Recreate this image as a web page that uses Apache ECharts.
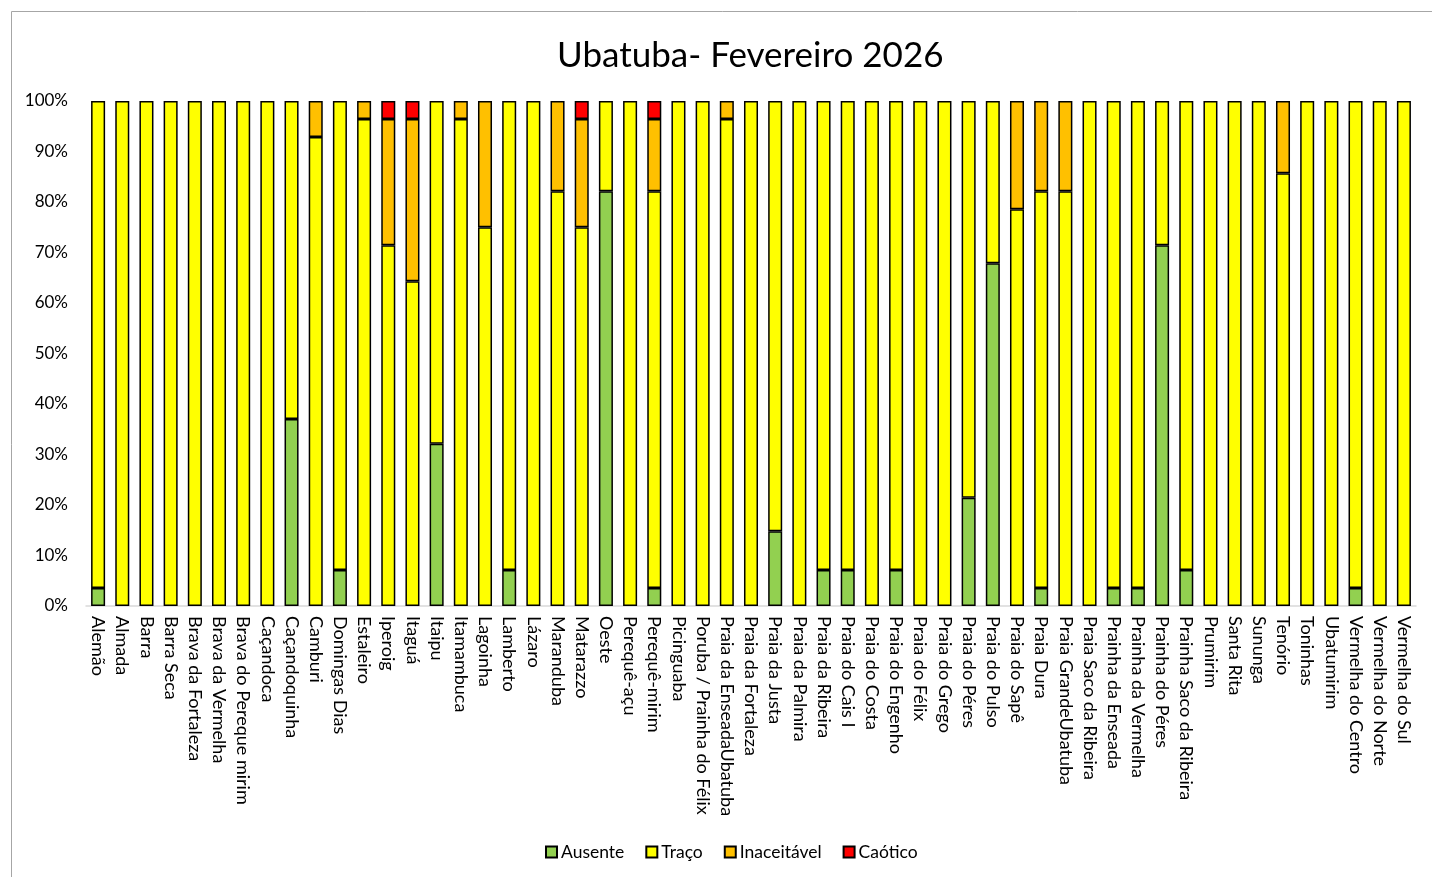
<!DOCTYPE html>
<html>
<head>
<meta charset="utf-8">
<script src="https://cdn.jsdelivr.net/npm/echarts@6/dist/echarts.min.js"></script>
<style>
  html, body { margin: 0; padding: 0; background: #fff; }
  #chart { width: 1432px; height: 877px; }
</style>
</head>
<body>
<div id="chart"></div>
<script>
// praias
var praias = ['Alemão', 'Almada', 'Barra', 'Barra Seca', 'Brava da Fortaleza', 'Brava da Vermelha',
  'Brava do Pereque mirim', 'Caçandoca', 'Caçandoquinha', 'Camburi', 'Domingas Dias', 'Estaleiro',
  'Iperoig', 'Itaguá', 'Itaipu', 'Itamambuca', 'Lagoinha', 'Lamberto', 'Lázaro', 'Maranduba',
  'Matarazzo', 'Oeste', 'Perequê-açu', 'Perequê-mirim', 'Picinguaba', 'Poruba / Prainha do Félix',
  'Praia da EnseadaUbatuba', 'Praia da Fortaleza', 'Praia da Justa', 'Praia da Palmira',
  'Praia da Ribeira', 'Praia do Cais I', 'Praia do Costa', 'Praia do Engenho', 'Praia do Félix',
  'Praia do Grego', 'Praia do Péres', 'Praia do Pulso', 'Praia do Sapê', 'Praia Dura',
  'Praia GrandeUbatuba', 'Praia Saco da Ribeira', 'Prainha da Enseada', 'Prainha da Vermelha',
  'Prainha do Péres', 'Prainha Saco da Ribeira', 'Prumirim', 'Santa Rita', 'Sununga', 'Tenório',
  'Toninhas', 'Ubatumirim', 'Vermelha do Centro', 'Vermelha do Norte', 'Vermelha do Sul']

// percentuais (%)
var ausente = [3.57, 0, 0, 0, 0, 0, 0, 0, 37.04, 0, 7.14, 0,
  0, 0, 32.14, 0, 0, 7.14, 0, 0,
  0, 82.14, 0, 3.57, 0, 0,
  0, 0, 14.81, 0,
  7.14, 7.14, 0, 7.14, 0,
  0, 21.43, 67.86, 0, 3.57,
  0, 0, 3.57, 3.57,
  71.43, 7.14, 0, 0, 0, 0,
  0, 0, 3.57, 0, 0]
var traco = [96.43, 100, 100, 100, 100, 100, 100, 100, 62.96, 92.86, 92.86, 96.43,
  71.43, 64.29, 67.86, 96.43, 75, 92.86, 100, 82.14,
  75, 17.86, 100, 78.57, 100, 100,
  96.43, 100, 85.19, 100,
  92.86, 92.86, 100, 92.86, 100,
  100, 78.57, 32.14, 78.57, 78.57,
  82.14, 100, 96.43, 96.43,
  28.57, 92.86, 100, 100, 100, 85.71,
  100, 100, 96.43, 100, 100]
var inaceitavel = [0, 0, 0, 0, 0, 0, 0, 0, 0, 7.14, 0, 3.57,
  25, 32.14, 0, 3.57, 25, 0, 0, 17.86,
  21.43, 0, 0, 14.29, 0, 0,
  3.57, 0, 0, 0,
  0, 0, 0, 0, 0,
  0, 0, 0, 21.43, 17.86,
  17.86, 0, 0, 0,
  0, 0, 0, 0, 0, 14.29,
  0, 0, 0, 0, 0]
var caotico = [0, 0, 0, 0, 0, 0, 0, 0, 0, 0, 0, 0,
  3.57, 3.57, 0, 0, 0, 0, 0, 0,
  3.57, 0, 0, 3.57, 0, 0,
  0, 0, 0, 0,
  0, 0, 0, 0, 0,
  0, 0, 0, 0, 0,
  0, 0, 0, 0,
  0, 0, 0, 0, 0, 0,
  0, 0, 0, 0, 0]

var yTicks = [0, 10, 20, 30, 40, 50, 60, 70, 80, 90, 100]

var fonte = 'Lato, "Open Sans", sans-serif'

function serie(nome, dados, cor) {
  return {
    name: nome,
    type: 'bar',
    stack: 'total',
    barWidth: '58%',
    // zero vira vazio para não desenhar borda
    data: dados.map(function (v) { return v === 0 ? '-' : v }),
    itemStyle: {
      color: cor,
      borderColor: '#000',
      borderWidth: 1.5
    }
  }
}

var myChart = echarts.init(document.getElementById('chart'))
var option = {
  backgroundColor: '#fff',
  animation: false,
  textStyle: { fontFamily: fonte },
  title: {
    text: 'Ubatuba- Fevereiro 2026',
    left: 552,
    top: 33,
    textStyle: {
      fontSize: 35,
      fontWeight: 'normal',
      color: '#000',
      fontFamily: fonte
    }
  },
  graphic: [{
    type: 'rect',
    shape: { x: 11.5, y: 11.5, width: 1440, height: 900 },
    style: { fill: 'none', stroke: '#a6a6a6', lineWidth: 1 },
    silent: true
  }],
  legend: {
    bottom: 11,
    left: 540,
    icon: 'rect',
    itemWidth: 11,
    itemHeight: 11,
    itemGap: 21,
    textStyle: { fontSize: 17.5, color: '#000', padding: [0, 0, 0, -1] },
    data: ['Ausente', 'Traço', 'Inaceitável', 'Caótico']
  },
  grid: {
    left: 86,
    right: 16,
    top: 101,
    bottom: 271
  },
  xAxis: {
    type: 'category',
    data: praias,
    axisLine: { lineStyle: { color: '#d9d9d9', width: 1.5 } },
    axisTick: { show: false },
    axisLabel: {
      rotate: -90,
      interval: 0,
      fontSize: 18,
      color: '#000',
      margin: 10
    }
  },
  yAxis: {
    type: 'value',
    min: 0,
    max: 100,
    interval: 10,
    splitLine: { show: false },
    axisLine: { show: false },
    axisTick: { show: false },
    axisLabel: {
      fontSize: 17,
      color: '#000',
      margin: 18,
      customValues: yTicks,
      formatter: '{value}%'
    }
  },
  series: [
    serie('Ausente', ausente, '#92d050'),
    serie('Traço', traco, '#ffff00'),
    serie('Inaceitável', inaceitavel, '#ffc000'),
    serie('Caótico', caotico, '#ff0000')
  ]
}
option && myChart.setOption(option)
</script>
</body>
</html>
